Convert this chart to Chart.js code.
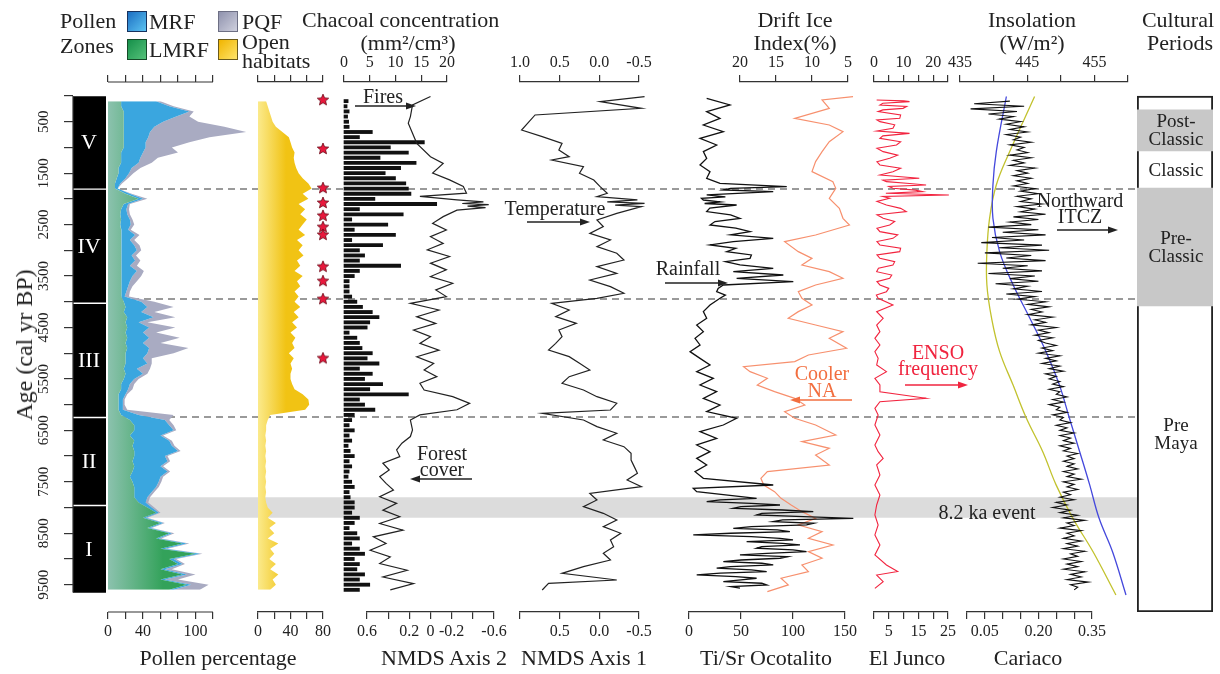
<!DOCTYPE html>
<html>
<head>
<meta charset="utf-8">
<title>Pollen, fire and climate records</title>
<script src="https://cdn.jsdelivr.net/npm/chart.js@4.4.1/dist/chart.umd.min.js"></script>
<style>
  body { margin: 0; background: #fff; }
  #wrap { position: relative; width: 1220px; height: 674px; overflow: hidden; background: #fff;
          font-family: "Liberation Serif", "Times New Roman", serif; color: #222; }
  #wrap canvas { position: absolute; top: 0; }
  .t { position: absolute; white-space: pre; line-height: 1; text-align: center; transform: translate(-50%, -50%); }
  .sw { position: absolute; width: 20px; height: 21px; box-sizing: border-box; }
</style>
</head>
<body>
<div id="wrap"></div>
<script>
// sample ages (cal yr BP)
var coreAge = [100,200,300,400,500,600,700,800,900,1000,
  1100,1200,1300,1400,1500,1600,1700,1800,1900,2000,
  2100,2200,2300,2400,2500,2600,2700,2800,2900,3000,
  3100,3200,3300,3400,3500,3600,3700,3800,3900,4000,
  4100,4200,4300,4400,4500,4600,4700,4800,4900,5000,
  5100,5200,5300,5400,5500,5600,5700,5800,5900,6000,
  6100,6200,6300,6400,6500,6600,6700,6800,6900,7000,
  7100,7200,7300,7400,7500,7600,7700,7800,7900,8000,
  8100,8200,8300,8400,8500,8600,8700,8800,8900,9000,
  9100,9200,9300,9400,9500,9600];

// pollen percentages (stacked)
var lmrf = [15,15,18,18,18,18,18,18,18,18,
  15,15,15,12,12,10,8,8,20,35,
  18,15,14,15,14,15,16,15,16,15,
  15,16,15,15,16,15,15,15,15,18,
  20,18,22,20,22,20,22,20,22,20,
  20,20,18,20,18,15,15,12,12,12,
  12,15,25,30,30,25,30,28,30,30,
  28,30,28,25,28,30,30,30,35,45,
  55,40,60,45,70,55,85,60,100,70,
  80,60,85,60,90,70];
var mrf = [40,55,75,60,45,35,30,28,25,25,
  25,22,20,15,12,10,6,3,5,5,
  5,6,8,10,12,8,15,10,14,18,
  12,15,10,18,12,10,8,6,4,20,
  25,20,30,15,25,20,25,20,25,25,
  20,25,15,20,12,10,8,8,5,5,
  5,20,40,40,45,35,40,45,50,35,
  40,30,40,35,30,25,20,15,8,5,
  3,3,3,3,3,3,5,5,5,5,
  5,5,5,5,5,5];
var pqf = [5,5,5,15,40,80,110,70,50,30,
  40,20,15,10,5,3,2,0,2,5,
  2,3,3,3,4,3,5,5,6,5,
  5,6,8,8,10,8,5,4,5,15,
  30,15,25,10,30,15,35,20,45,30,
  10,5,15,5,5,5,5,2,2,2,
  5,40,5,5,3,3,3,3,3,3,
  3,3,3,3,3,3,3,3,3,3,
  2,2,2,2,3,3,3,3,3,3,
  3,8,10,15,20,30];
var openHab = [10,12,14,16,18,22,30,38,40,42,
  45,44,45,47,50,55,62,66,55,62,
  50,58,52,60,55,50,58,48,55,50,
  56,48,52,45,55,48,52,45,50,45,
  52,44,50,42,48,40,46,42,45,38,
  44,40,42,40,40,42,45,55,62,63,
  58,15,12,10,10,9,10,9,10,9,
  10,9,10,9,10,9,10,9,10,12,
  18,12,22,14,20,12,25,15,20,14,
  22,15,25,18,22,15];
var starAge = [80,1030,1790,2080,2330,2550,2700,3320,3600,3950,5100];
var starX = 80;

// charcoal concentration (mm2/cm3)
var charcoal = [0.8,0.6,1,0.7,0.9,1,5.5,3,15.6,9,
  12.5,7,14,11,8,10,12,12.5,13,6,
  18,3,11.5,1.5,8.5,2,10,1.5,7.5,3,
  4,3,11,3,2,1,1,1,1.5,2.5,
  3.6,5.5,6.8,5,4.5,1,2.5,3,3.5,5.5,
  4.5,6.8,3,5.5,4,7.5,5,12.5,3,4,
  6,2,1.5,1,2,1,1.5,0.8,1.2,2,
  1,1.5,1,0.8,1.5,2,1,1.2,2,2,
  1.5,3,2,1,2.5,3,1.5,3,4,2,
  3,2.5,4,3,5,3];

// NMDS axis 2 (forest cover)
var nmds2Age = [10,175,400,530,725,920,1180,1310,1500,1630,
  1760,1890,1950,2020,2060,2090,2110,2140,2170,2220,
  2345,2475,2605,2735,2865,2990,3120,3250,3380,3510,
  3640,3770,3900,4030,4160,4290,4420,4550,4680,4810,
  4940,5070,5200,5325,5455,5585,5715,5845,5975,6100,
  6200,6300,6490,6620,6750,6880,7010,7140,7270,7400,
  7530,7660,7790,7920,8050,8180,8310,8440,8570,8700,
  8830,8960,9090,9220,9350,9480,9600];
var nmds2 = [0.0,0.17,0.19,0.21,0.17,0.13,0.0,-0.12,-0.02,-0.18,
  -0.31,-0.34,0.1,-0.25,-0.5,-0.3,-0.55,-0.35,-0.52,-0.25,
  -0.12,-0.02,-0.15,0.0,-0.12,0.03,-0.18,0.0,-0.15,0.0,
  -0.21,-0.05,-0.15,0.19,-0.08,0.13,-0.05,0.16,0.0,0.1,
  -0.08,0.13,-0.03,0.06,-0.06,0.1,0.06,-0.21,-0.37,-0.25,
  0.1,0.19,0.17,0.19,0.27,0.32,0.29,0.45,0.39,0.48,
  0.42,0.35,0.48,0.32,0.45,0.29,0.48,0.26,0.54,0.42,
  0.57,0.38,0.48,0.22,0.45,0.16,0.38];

// NMDS axis 1 (temperature)
var nmds1Age = [13,110,240,369,661,790,920,1049,1179,1244,
  1373,1503,1633,1762,1892,1957,2021,2060,2086,2120,
  2151,2281,2410,2540,2670,2799,2929,3058,3188,3317,
  3447,3577,3706,3836,3933,4030,4160,4289,4419,4549,
  4678,4808,4937,5067,5197,5326,5456,5585,5715,5845,
  5974,6104,6169,6298,6428,6557,6687,6817,6946,7076,
  7205,7335,7465,7594,7724,7853,7983,8113,8242,8372,
  8501,8631,8761,8890,9020,9150,9279,9409,9474,9603];
var nmds1 = [-0.57,-0.01,-0.53,0.81,0.98,0.72,0.47,0.51,0.38,0.6,
  0.2,0.25,0.07,-0.01,-0.1,0.03,-0.48,-0.1,-0.57,-0.2,
  -0.53,-0.22,0.03,-0.05,0.12,-0.14,0.03,-0.22,-0.31,0.03,
  -0.22,0.12,-0.14,-0.31,0.03,0.6,0.38,0.55,0.29,0.51,
  0.47,0.55,0.64,0.38,0.25,0.12,0.38,0.47,0.2,0.03,
  -0.22,-0.14,0.72,0.2,0.03,-0.22,-0.05,-0.31,-0.4,-0.4,
  -0.44,-0.48,-0.35,-0.53,0.12,0.03,0.2,-0.05,-0.22,-0.05,
  -0.27,-0.14,-0.18,-0.05,-0.14,0.2,0.47,-0.22,0.64,0.72];

// Ti/Sr Ocotalito (rainfall)
var tisrAge = [45,175,304,434,564,693,823,952,1082,1212,
  1341,1471,1600,1698,1762,1795,1827,1860,1924,1960,
  1990,2022,2060,2090,2119,2180,2248,2310,2378,2440,
  2508,2570,2637,2700,2767,2832,2896,2960,3026,3090,
  3156,3220,3285,3350,3415,3480,3544,3609,3674,3740,
  3804,3870,3933,4063,4192,4322,4452,4581,4711,4840,
  4970,5100,5229,5359,5488,5618,5748,5877,6007,6136,
  6266,6396,6525,6655,6784,6914,7044,7173,7303,7432,
  7562,7627,7692,7821,7853,7886,7918,7951,7983,8015,
  8048,8080,8112,8145,8177,8210,8242,8274,8307,8339,
  8371,8404,8436,8469,8500,8533,8565,8598,8630,8663,
  8695,8728,8760,8792,8825,8857,8890,8922,8954,8986,
  9020,9051,9083,9116,9148,9180,9212,9245,9277,9310,
  9342,9375,9407,9439,9472,9504,9536,9569];
var tisr = [17,39.4,17,29.8,13.8,33,10.6,26.6,13.8,17,
  10.6,20.2,17,29.8,94,40,33,81,17,35,
  12,13.8,30,15,45.8,20,17,40,49,25,
  20.2,45,58.7,40,81,42.6,20.2,45,36.2,60,
  58.7,35,49,81,42.6,90.7,45.8,100.3,33,28,
  26.6,35,29.8,20.2,13.8,17,7.4,13.8,5.8,10.6,
  1,10.6,20.2,7.4,23.4,10.6,26.6,13.8,29.8,17,
  45.8,33,10.6,26.6,7.4,20.2,7.4,17,5.8,13.8,
  81,4.1,7.4,65,30,17,60,87.5,50,42.6,
  90,119.5,70,65,110,158,90,81,120,113,
  60,42.6,85,97,40,4.1,60,87.5,100,55.4,
  90,106.7,70,65,100,113,75,49,95,87.5,
  50,33,70,81,40,26.6,60,74.7,30,7.4,
  45,65,50,33,70,74.7,40,49];

// drift ice index (%)
var driftAge = [13,78,240,434,564,693,888,1082,1276,1471,
  1665,1795,1989,2184,2378,2508,2702,2832,3026,3156,
  3285,3415,3544,3674,3804,3933,4063,4192,4322,4452,
  4581,4711,4905,5035,5164,5262,5359,5488,5618,5748,
  5877,6007,6136,6266,6396,6590,6720,6849,6979,7173,
  7303,7432,7562,7692,7821,7951,8080,8210,8339,8469,
  8598,8728,8857,8986,9116,9245,9375,9504,9634];
var drift = [4.3,8.6,7.6,12.4,7.6,5.7,7.6,8.6,9.5,10,
  7.1,6.7,7.6,6.2,5.7,4.8,9.5,13.8,11.9,10,
  11.4,7.6,5.7,9.5,11.9,11.4,10,11.9,13.3,9.5,
  5.7,7.6,5.2,10.5,12.4,19.5,18.6,16.2,17.6,15.2,
  12.4,11,13.8,12.4,9.5,6.7,11.4,7.6,9.5,7.6,
  16.2,17.1,16.7,15.2,14.3,12.9,11.4,9.5,11.9,8.6,
  10.5,7.1,10.5,8.6,11.4,10.5,14.3,13.3,16.2];

// El Junco sand % (ENSO)
var juncoAge = [78,95,110,140,175,205,240,270,304,370,
  434,465,499,560,628,680,726,775,823,890,
  952,1015,1082,1150,1212,1280,1341,1405,1471,1535,
  1600,1635,1665,1700,1730,1760,1795,1830,1860,1890,
  1924,1955,1989,2050,2119,2185,2248,2310,2378,2440,
  2508,2570,2637,2700,2767,2830,2896,2960,3026,3090,
  3156,3220,3285,3350,3415,3480,3544,3609,3674,3740,
  3804,3870,3933,4063,4192,4322,4452,4581,4711,4840,
  4970,5100,5229,5359,5488,5618,5748,5877,5942,6072,
  6201,6396,6590,6784,6914,7044,7173,7368,7562,7756,
  7951,8145,8339,8533,8728,8922,9116,9245,9312,9441,
  9571];
var junco = [0.9,10,12,3,2,11,9.8,3,1.4,9,
  8.7,1,2,7,6.4,1,12,3,2,9,
  7.6,1,3.1,8,5.3,1,2,9,6.4,2,
  15.3,3,4.2,12,17.6,5,6.4,14,16.4,4,
  25.3,3,5.3,1,4.2,9,10.9,1,3.1,7,
  5.3,1,2,8,6.4,1,2,9,8.7,1,
  2,7,6.4,1.5,0.9,6,5.3,1,2,5,
  4.2,0.8,1.4,6.4,0.9,3.1,0.9,2,0.3,2,
  0.3,1.4,0.9,4.2,0.3,2,2,17.6,2,0.3,
  1.4,0.3,2,0.3,1.4,3.1,0.9,2,0.3,2,
  0.9,0.3,1.4,0.3,2,0.3,4.2,8,0.9,3.1,
  0.3];

// insolation (W/m2)
var insAge = [10,1080,1730,2380,3030,3670,4320,4970,5620,6270,6910,7560,8210,8860,9700];
var insBlue = [441.9,440.4,439.9,439.9,440.9,442.9,445.4,447.8,449.8,451.3,452.8,454.3,455.7,457.7,459.7];
var insYellow = [446.1,442.4,440.4,439.4,439.0,439.0,439.7,440.9,442.9,444.9,447.3,449.3,451.8,454.8,458.2];

// Cariaco Ti %
var cariacoAge = [100,150,200,250,300,350,400,450,500,550,
  600,650,700,750,800,850,900,950,1000,1050,
  1100,1150,1200,1250,1300,1350,1400,1450,1500,1550,
  1600,1650,1700,1750,1800,1850,1900,1950,2000,2050,
  2100,2150,2200,2250,2300,2350,2400,2450,2500,2550,
  2600,2650,2700,2750,2800,2850,2900,2950,3000,3050,
  3100,3150,3200,3250,3300,3350,3400,3450,3500,3550,
  3600,3650,3700,3750,3800,3850,3900,3950,4000,4050,
  4100,4150,4200,4250,4300,4350,4400,4450,4500,4550,
  4600,4650,4700,4750,4800,4850,4900,4950,5000,5050,
  5100,5150,5200,5250,5300,5350,5400,5450,5500,5550,
  5600,5650,5700,5750,5800,5850,5900,5950,6000,6050,
  6100,6150,6200,6250,6300,6350,6400,6450,6500,6550,
  6600,6650,6700,6750,6800,6850,6900,6950,7000,7050,
  7100,7150,7200,7250,7300,7350,7400,7450,7500,7550,
  7600,7650,7700,7750,7800,7850,7900,7950,8000,8050,
  8100,8150,8200,8250,8300,8350,8400,8450,8500,8550,
  8600,8650,8700,8750,8800,8850,8900,8950,9000,9050,
  9100,9150,9200,9250,9300,9350,9400,9450,9500,9550,
  9600];
var cariaco = [0.12,0.02,0.16,0.01,0.14,0.06,0.13,0.09,0.15,0.11,
  0.16,0.12,0.17,0.11,0.15,0.13,0.18,0.12,0.16,0.14,
  0.17,0.12,0.18,0.13,0.16,0.12,0.19,0.14,0.17,0.13,
  0.18,0.14,0.17,0.13,0.19,0.15,0.2,0.14,0.18,0.15,
  0.21,0.14,0.19,0.15,0.22,0.13,0.2,0.12,0.18,0.06,
  0.2,0.1,0.22,0.07,0.16,0.04,0.21,0.09,0.23,0.05,
  0.18,0.11,0.22,0.03,0.17,0.1,0.21,0.06,0.19,0.12,
  0.2,0.08,0.17,0.13,0.21,0.11,0.19,0.14,0.22,0.17,
  0.23,0.18,0.21,0.17,0.24,0.19,0.22,0.18,0.25,0.2,
  0.23,0.19,0.24,0.2,0.22,0.25,0.21,0.24,0.2,0.26,
  0.22,0.25,0.21,0.26,0.23,0.27,0.22,0.25,0.23,0.26,
  0.24,0.27,0.23,0.26,0.25,0.28,0.24,0.27,0.23,0.26,
  0.25,0.28,0.24,0.27,0.26,0.29,0.25,0.28,0.26,0.3,
  0.26,0.29,0.27,0.3,0.26,0.29,0.27,0.31,0.28,0.3,
  0.27,0.3,0.28,0.31,0.27,0.3,0.28,0.32,0.27,0.3,
  0.28,0.31,0.27,0.29,0.26,0.3,0.25,0.28,0.24,0.29,
  0.26,0.31,0.27,0.33,0.28,0.3,0.26,0.32,0.28,0.3,
  0.27,0.32,0.28,0.31,0.27,0.33,0.29,0.31,0.27,0.32,
  0.28,0.31,0.27,0.33,0.29,0.32,0.28,0.34,0.29,0.31,
  0.3];

// zones, boundaries and cultural periods
var zoneSpan = [[0,1790],[1830,4010],[4050,6230],[6270,7940],[7980,9650]];
var zoneName = ['V','IV','III','II','I'];
var dashAge = [1808, 3946, 6240, 7854];
var eventBand = [7800, 8200];
var periodShade = [[270,1070],[1790,4080]];
var periodName = ['Post-\nClassic','Classic','Pre-\nClassic','Pre\nMaya'];
var periodLabelAge = [670, 1430, 2935, 6570];

// tick values and labels
var ageTicks = [0,500,1000,1500,2000,2500,3000,3500,4000,4500,5000,5500,6000,6500,7000,7500,8000,8500,9000,9500];
var ageLabels = ['','500','','1500','','2500','','3500','','4500','','5500','','6500','','7500','','8500','','9500'];
var pollenTicks = [0,20,40,60,80,100,120], pollenLabels = ['0','','40','','','100',''];
var openTicks = [0,20,40,60,80], openLabels = ['0','','40','','80'];
var charTicks = [0,5,10,15,20], charLabels = ['0','5','10','15','20'];
var nmds2Ticks = [0.6,0.4,0.2,0,-0.2,-0.4,-0.6], nmds2Labels = ['0.6','','0.2','0','-0.2','','-0.6'];
var nmds1Ticks = [1,0.5,0,-0.5], nmds1Top = ['1.0','0.5','0.0','-0.5'], nmds1Bottom = ['','0.5','0.0','-0.5'];
var tisrTicks = [0,50,100,150], tisrLabels = ['0','50','100','150'];
var driftTicks = [20,15,10,5], driftLabels = ['20','15','10','5'];
var juncoTicks = [0,5,10,15,20,25], juncoTop = ['0','','10','','20',''], juncoBottom = ['','5','','15','','25'];
var insTicks = [435,440,445,450,455,460], insLabels = ['435','','445','','455',''];
var cariacoTicks = [0,0.05,0.1,0.15,0.2,0.25,0.3,0.35], cariacoLabels = ['','0.05','','','0.20','','','0.35'];

// layout
var H = 674, TOP = 82, BOTTOM = 612, PAD = 30, TOP_H = 30, BOT_H = 40;
var AGE_TOP = -272, AGE_BOTTOM = 10031;
var INK = '#333';
var SERIF = '"Liberation Serif", "Times New Roman", serif';
var wrap = document.getElementById('wrap');

// axis line drawn only between two values of a scale
Chart.register({
  id: 'baseLine',
  afterDraw: function (chart, args, opts) {
    var lines = opts.lines || [];
    var ctx = chart.ctx;
    for (var i = 0; i < lines.length; i++) {
      var l = lines[i], s = chart.scales[l.scale];
      ctx.save();
      ctx.strokeStyle = INK; ctx.lineWidth = 1.2;
      ctx.beginPath();
      if (s.isHorizontal()) {
        var y = s.position === 'top' ? s.bottom : s.top;
        ctx.moveTo(s.getPixelForValue(l.from), y); ctx.lineTo(s.getPixelForValue(l.to), y);
      } else {
        ctx.moveTo(s.right, s.getPixelForValue(l.from)); ctx.lineTo(s.right, s.getPixelForValue(l.to));
      }
      ctx.stroke();
      ctx.restore();
    }
  }
});

function makeCanvas(left, width) {
  var c = document.createElement('canvas');
  c.width = width; c.height = H;
  c.style.left = left + 'px';
  c.style.width = width + 'px'; c.style.height = H + 'px';
  wrap.appendChild(c);
  return c;
}

function pts(ages, vals) {
  return ages.map(function (a, i) { return { x: vals[i], y: a }; });
}

function lineSet(ages, vals, color, width, tension) {
  return { data: pts(ages, vals), borderColor: color, borderWidth: width || 1.2, pointRadius: 0,
           tension: tension || 0, clip: false, fill: false };
}

function gradient(c0, c1, span) {
  return function (ctx) {
    var area = ctx.chart.chartArea;
    if (!area) return c1;
    var g = ctx.chart.ctx.createLinearGradient(area.left, 0, area.left + span, 0);
    g.addColorStop(0, c0); g.addColorStop(1, c1);
    return g;
  };
}

function xAxis(pos, min, max, reverse, ticks, labels) {
  return {
    type: 'linear', position: pos, min: min, max: max, reverse: !!reverse,
    afterBuildTicks: function (s) { s.ticks = ticks.map(function (v) { return { value: v }; }); },
    afterFit: function (s) { s.height = pos === 'top' ? TOP_H : BOT_H; },
    grid: { drawOnChartArea: false, drawTicks: true, tickLength: 7, color: INK, lineWidth: 1.2 },
    border: { display: true, color: INK, width: 1.2 },
    ticks: { autoSkip: false, maxRotation: 0, padding: 3, color: '#222', font: { family: SERIF, size: 16 },
             callback: function (v, i) { return labels ? labels[i] : ''; } }
  };
}

function ageScale() {
  return { type: 'linear', display: false, offset: false, min: AGE_TOP, max: AGE_BOTTOM, reverse: true };
}

function panel(L, R, p) {
  var c = makeCanvas(L - PAD, R - L + 2 * PAD);
  var scales = { y: ageScale() };
  scales.x = p.botTicks ? xAxis('bottom', p.min, p.max, p.reverse, p.botTicks, p.botLabels)
                        : { type: 'linear', display: false, min: p.min, max: p.max, reverse: !!p.reverse };
  if (p.topTicks) scales.x2 = xAxis('top', p.min, p.max, p.reverse, p.topTicks, p.topLabels);
  if (p.stacked) scales.x.stacked = true;
  if (p.noBorder) {
    scales.x.border.display = false;
    if (scales.x2) scales.x2.border.display = false;
  }
  return new Chart(c, {
    type: p.type || 'line',
    data: { datasets: p.datasets },
    options: {
      responsive: false, animation: false, devicePixelRatio: 1, events: [], indexAxis: 'y',
      layout: { padding: { left: PAD, right: PAD,
                           top: p.topTicks ? TOP - TOP_H : TOP,
                           bottom: p.botTicks ? H - BOTTOM - BOT_H : H - BOTTOM } },
      plugins: { legend: { display: false }, tooltip: { enabled: false }, baseLine: { lines: p.lines || [] } },
      scales: scales
    }
  });
}

function starImage(r) {
  var c = document.createElement('canvas');
  c.width = c.height = 2 * r + 2;
  var g = c.getContext('2d');
  g.beginPath();
  for (var i = 0; i < 10; i++) {
    var a = -Math.PI / 2 + i * Math.PI / 5, rr = i % 2 ? r * 0.45 : r;
    g.lineTo(r + 1 + rr * Math.cos(a), r + 1 + rr * Math.sin(a));
  }
  g.closePath();
  g.fillStyle = '#e8183c'; g.fill();
  g.strokeStyle = '#6a0a18'; g.lineWidth = 0.8; g.stroke();
  return c;
}

// background: boundaries and 8.2 ka band
var edge = function (a) { return [{ x: 0, y: a }, { x: 1, y: a }]; };
var bgSets = [
  { data: edge(eventBand[0]), borderColor: 'rgba(0,0,0,0)', pointRadius: 0, fill: false },
  { data: edge(eventBand[1]), borderColor: 'rgba(0,0,0,0)', pointRadius: 0, fill: '-1', backgroundColor: '#dcdcdc' }
];
dashAge.forEach(function (a) {
  bgSets.push({ data: edge(a), borderColor: '#7a7a7a', borderWidth: 1.5, borderDash: [7, 5], pointRadius: 0, fill: false });
});
new Chart(makeCanvas(108, 1137 - 108), {
  type: 'line',
  data: { datasets: bgSets },
  options: {
    responsive: false, animation: false, devicePixelRatio: 1, events: [],
    layout: { padding: { left: 0, right: 0, top: TOP, bottom: H - BOTTOM } },
    plugins: { legend: { display: false }, tooltip: { enabled: false } },
    scales: { x: { type: 'linear', display: false, min: 0, max: 1 }, y: ageScale() }
  }
});

// pollen zones with age axis
var zoneChart = new Chart(makeCanvas(0, 116), {
  type: 'bar',
  data: { labels: ['zone'], datasets: [{
    data: zoneSpan.map(function (s) { return { x: 'zone', y: s }; }),
    backgroundColor: '#000', barPercentage: 1, categoryPercentage: 1, borderSkipped: false }] },
  options: {
    responsive: false, animation: false, devicePixelRatio: 1, events: [],
    layout: { padding: { left: 0, right: 10, top: TOP, bottom: H - BOTTOM } },
    plugins: { legend: { display: false }, tooltip: { enabled: false },
               baseLine: { lines: [{ scale: 'y', from: 0, to: 9650 }] } },
    scales: {
      x: { type: 'category', display: false },
      y: { type: 'linear', position: 'left', min: AGE_TOP, max: AGE_BOTTOM, reverse: true,
           afterBuildTicks: function (s) { s.ticks = ageTicks.map(function (v) { return { value: v }; }); },
           afterFit: function (s) { s.width = 73; },
           grid: { drawOnChartArea: false, drawTicks: true, tickLength: 9, color: INK, lineWidth: 1.2 },
           border: { display: false },
           ticks: { autoSkip: false, minRotation: 90, maxRotation: 90, crossAlign: 'center', padding: 5,
                    color: '#222', font: { family: SERIF, size: 15 },
                    callback: function (v, i) { return ageLabels[i]; } } }
    }
  }
});

// pollen percentages
panel(108, 252, {
  min: 0, max: 164.6, stacked: true, noBorder: true,
  topTicks: pollenTicks, botTicks: pollenTicks, botLabels: pollenLabels,
  lines: [{ scale: 'x', from: 0, to: 120 }, { scale: 'x2', from: 0, to: 120 }],
  datasets: [
    { data: pts(coreAge, lmrf), fill: 'origin', backgroundColor: gradient('#8cc2ae', '#33a25a', 55),
      borderColor: 'rgba(0,0,0,0)', pointRadius: 0 },
    { data: pts(coreAge, mrf), fill: '-1', backgroundColor: '#3aa6df', borderColor: 'rgba(0,0,0,0)', pointRadius: 0 },
    { data: pts(coreAge, pqf), fill: '-1', backgroundColor: '#a9abc2', borderColor: 'rgba(0,0,0,0)', pointRadius: 0 }
  ]
});

// open habitats + stars
panel(258, 323, {
  min: 0, max: 80, topTicks: openTicks, botTicks: openTicks, botLabels: openLabels,
  datasets: [
    { data: pts(coreAge, openHab), fill: 'origin', backgroundColor: gradient('#fbea8c', '#f1c314', 28),
      borderColor: 'rgba(0,0,0,0)', pointRadius: 0 },
    { data: starAge.map(function (a) { return { x: starX, y: a }; }), showLine: false,
      pointStyle: starImage(6), pointRadius: 6, clip: false }
  ]
});

// charcoal
panel(344, 447, {
  type: 'bar', min: 0, max: 20, topTicks: charTicks, topLabels: charLabels,
  datasets: [{ data: pts(coreAge, charcoal), backgroundColor: '#111', barThickness: 3.2, clip: false }]
});

// NMDS axes
panel(367, 494, {
  min: -0.6, max: 0.6, reverse: true, botTicks: nmds2Ticks, botLabels: nmds2Labels,
  datasets: [lineSet(nmds2Age, nmds2, '#222')]
});
panel(520, 639, {
  min: -0.5, max: 1.0, reverse: true, topTicks: nmds1Ticks, topLabels: nmds1Top,
  botTicks: nmds1Ticks, botLabels: nmds1Bottom,
  datasets: [lineSet(nmds1Age, nmds1, '#222')]
});

// drift ice and Ti/Sr
panel(740, 848, {
  min: 5, max: 20, reverse: true, topTicks: driftTicks, topLabels: driftLabels,
  datasets: [lineSet(driftAge, drift, '#f7906e', 1.2)]
});
panel(689, 845, {
  min: 0, max: 150, botTicks: tisrTicks, botLabels: tisrLabels,
  datasets: [lineSet(tisrAge, tisr, '#111', 1.3)]
});

// El Junco
panel(874, 948, {
  min: 0, max: 25, topTicks: juncoTicks, topLabels: juncoTop, botTicks: juncoTicks, botLabels: juncoBottom,
  datasets: [lineSet(juncoAge, junco, '#f2243f', 1.1)]
});

// insolation and Cariaco
panel(960, 1128, {
  min: 435, max: 460, topTicks: insTicks, topLabels: insLabels,
  datasets: [lineSet(insAge, insBlue, '#4448dc', 1.3, 0.4), lineSet(insAge, insYellow, '#c2c22e', 1.3, 0.4)]
});
panel(967, 1092, {
  min: 0, max: 0.35, botTicks: cariacoTicks, botLabels: cariacoLabels,
  datasets: [lineSet(cariacoAge, cariaco, '#111', 1.1)]
});

// cultural periods
var cultChart = new Chart(makeCanvas(1137, 76), {
  type: 'bar',
  data: { labels: ['period'], datasets: [
    { data: periodShade.map(function (s) { return { x: 'period', y: s }; }), backgroundColor: '#c8c8c8',
      grouped: false, barPercentage: 1, categoryPercentage: 1, borderWidth: 0 },
    { data: [{ x: 'period', y: [0, AGE_BOTTOM] }], backgroundColor: 'rgba(0,0,0,0)', borderColor: '#222',
      borderWidth: 1.5, borderSkipped: false, grouped: false, barPercentage: 1, categoryPercentage: 1 }
  ] },
  options: {
    responsive: false, animation: false, devicePixelRatio: 1, events: [],
    layout: { padding: { left: 0, right: 0, top: TOP, bottom: H - BOTTOM } },
    plugins: { legend: { display: false }, tooltip: { enabled: false } },
    scales: { x: { type: 'category', display: false }, y: ageScale() }
  }
});

// ---- text ----
function text(str, x, y, size, opt) {
  opt = opt || {};
  var d = document.createElement('div');
  d.className = 't';
  d.textContent = str;
  d.style.left = x + 'px'; d.style.top = y + 'px'; d.style.fontSize = size + 'px';
  if (opt.color) d.style.color = opt.color;
  if (opt.lh) d.style.lineHeight = opt.lh + 'px';
  if (opt.left) { d.style.transform = 'translate(0,-50%)'; d.style.textAlign = 'left'; }
  if (opt.rotate) d.style.transform = 'translate(-50%,-50%) rotate(-90deg)';
  wrap.appendChild(d);
  return d;
}

var zy = zoneChart.scales.y;
zoneSpan.forEach(function (s, i) {
  text(zoneName[i], 89, zy.getPixelForValue((s[0] + s[1]) / 2), 22, { color: '#fff' });
});
var cy = cultChart.scales.y;
periodName.forEach(function (n, i) {
  text(n, 1176, cy.getPixelForValue(periodLabelAge[i]), 19, { lh: 18 });
});

// legend
function swatch(x, y, bg, border) {
  var d = document.createElement('div');
  d.className = 'sw';
  d.style.left = x + 'px'; d.style.top = y + 'px';
  d.style.background = bg; d.style.border = '1.5px solid ' + border;
  wrap.appendChild(d);
}
text('Pollen', 60, 21, 22, { left: true });
text('Zones', 60, 46, 22, { left: true });
swatch(127, 11, 'linear-gradient(135deg,#1c6fc2,#5cc3f2)', '#17325e');
text('MRF', 149, 22, 22, { left: true });
swatch(127, 39, 'linear-gradient(135deg,#16904a,#55c27a)', '#154a28');
text('LMRF', 149, 50, 22, { left: true });
swatch(218, 11, 'linear-gradient(135deg,#8f92ad,#cfd0de)', '#6d6f84');
text('PQF', 242, 22, 22, { left: true });
swatch(218, 39, 'linear-gradient(135deg,#f0b400,#ffe46a)', '#6b5a1a');
text('Open', 242, 42, 22, { left: true });
text('habitats', 242, 61, 22, { left: true });

text('Chacoal concentration', 302, 20, 22, { left: true });
text('(mm\u00b2/cm\u00b3)', 408, 43, 22);
text('Drift Ice', 795, 20, 22);
text('Index(%)', 795, 43, 22);
text('Insolation', 1032, 20, 22);
text('(W/m\u00b2)', 1032, 43, 22);
text('Cultural', 1178, 20, 22);
text('Periods', 1180, 43, 22);

text('Pollen percentage', 218, 658, 22);
text('NMDS Axis 2', 444, 658, 22);
text('NMDS Axis 1', 584, 658, 22);
text('Ti/Sr Ocotalito', 766, 658, 22);
text('El Junco', 907, 658, 22);
text('Sand %', 907, 682, 22);
text('Cariaco', 1028, 658, 22);
text('Ti %', 1028, 682, 22);
text('Age (cal yr BP)', 24, 345, 24, { rotate: true });

text('Fires', 383, 96, 20);
text('Temperature', 555, 208, 20);
text('Forest\ncover', 442, 461, 20, { lh: 16 });
text('Rainfall', 688, 268, 20);
text('Cooler\nNA', 822, 382, 20, { color: '#f26e3f', lh: 17 });
text('ENSO\nfrequency', 938, 360, 20, { color: '#f0243f', lh: 16 });
text('Northward\nITCZ', 1080, 208, 20, { lh: 16 });
text('8.2 ka event', 987, 512, 20);

// annotation arrows
var arrows = [
  [355, 106, 416, 106, '#222'], [527, 222, 590, 222, '#222'], [472, 479, 410, 479, '#222'],
  [665, 283, 728, 283, '#222'], [852, 400, 790, 400, '#f26e3f'], [905, 385, 968, 385, '#f0243f'],
  [1057, 230, 1118, 230, '#222']
];
var svg = '<svg width="1220" height="674" style="position:absolute;left:0;top:0" xmlns="http://www.w3.org/2000/svg">';
arrows.forEach(function (a) {
  var s = a[2] > a[0] ? 1 : -1;
  svg += '<line x1="' + a[0] + '" y1="' + a[1] + '" x2="' + (a[2] - 6 * s) + '" y2="' + a[3] +
         '" stroke="' + a[4] + '" stroke-width="1.5"/>';
  svg += '<polygon points="' + a[2] + ',' + a[3] + ' ' + (a[2] - 10 * s) + ',' + (a[3] - 3.5) + ' ' +
         (a[2] - 10 * s) + ',' + (a[3] + 3.5) + '" fill="' + a[4] + '"/>';
});
svg += '</svg>';
wrap.insertAdjacentHTML('beforeend', svg);
</script>
</body>
</html>
